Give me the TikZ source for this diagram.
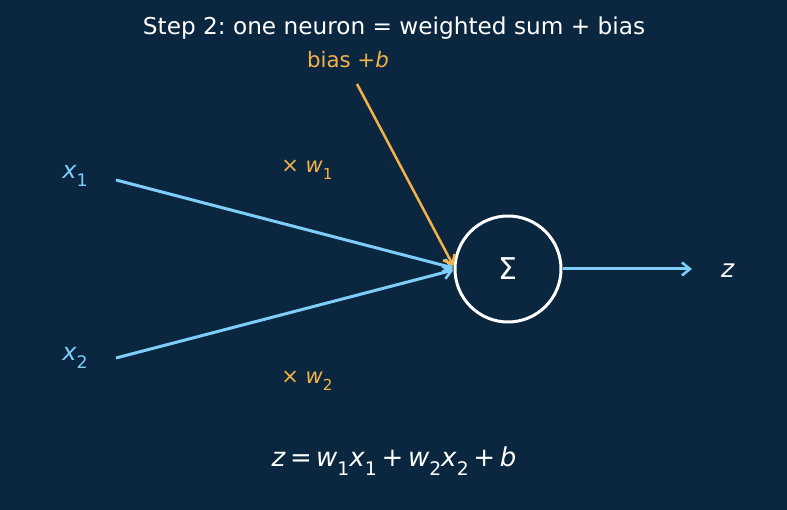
\documentclass[tikz,border=0pt]{standalone}
\usepackage{fontspec}
\setmainfont{DejaVu Sans}
\usetikzlibrary{positioning, arrows.meta, calc}

\definecolor{bgnavy}{HTML}{0B2740}
\definecolor{inblue}{HTML}{7FCDFA}
\definecolor{biasorange}{HTML}{F5B24A}

\newcommand{\mv}[1]{\textit{#1}}
\newcommand{\sbs}[1]{\raisebox{-0.32em}{\fontsize{0.72em}{1em}\selectfont #1}}
\frenchspacing

\begin{document}
\begin{tikzpicture}[x=1pt, y=-1pt, >={Straight Barb[length=8pt, width=13pt, line width=2.6pt]},
  wire/.style={->, line width=3pt, inblue},
  biaswire/.style={->, line width=2.5pt, biasorange},
  inlabel/.style={font=\fontsize{24}{28}\selectfont, text=inblue},
  weightlabel/.style={font=\fontsize{21}{24}\selectfont, text=biasorange},
  sumnode/.style={draw=white, circle, line width=3pt, minimum size=106pt,
    font=\fontsize{30}{34}\selectfont, text=white}]

% --- Background ---
\fill[bgnavy] (0,0) rectangle (787,510);
\useasboundingbox (0,0) rectangle (787,510);

% --- Title ---
\node[text=white, font=\fontsize{23.2}{27}\selectfont] (title) at (394,28)
  {Step 2: one neuron = weighted sum + bias};

% --- Inputs ---
\node[inlabel] (xone) at (75,176) {\mv{x}\sbs{1}};
\node[inlabel] (xtwo) at (75,358) {\mv{x}\sbs{2}};
\coordinate (xonestart) at (116,180);
\coordinate (xtwostart) at (116,358);

% --- Weights ---
\node[weightlabel] (wone) at (307,170) {× \mv{w}\sbs{1}};
\node[weightlabel] (wtwo) at (307,381) {× \mv{w}\sbs{2}};

% --- Bias ---
\node[text=biasorange, font=\fontsize{21.3}{25}\selectfont] (bias) at (348,60) {bias +\mv{b}};
\coordinate (biasstart) at (357,84);

% --- Sum ---
\node[sumnode] (sum) at (508,269) {Σ};

% --- Output ---
\coordinate (zend) at (692,269);
\node[text=white, font=\fontsize{25}{28}\selectfont] (zout) at (728,271) {\mv{z}};

% --- Connections ---
\draw[wire] (xonestart) -- ($(sum.west)+(0,-1)$);
\draw[wire] (xtwostart) -- ($(sum.west)+(0,1)$);
\draw[biaswire] (biasstart) -- ($(sum.west)+(0,-3)$);
\draw[wire] (sum.east) -- (zend);

% --- Formula ---
\node[text=white, font=\fontsize{26}{30}\selectfont] (formula) at (394,461)
  {\mv{z}\,=\,\mv{w}\sbs{1}\mv{x}\sbs{1}\hspace{0.18em}+\hspace{0.18em}\mv{w}\sbs{2}\mv{x}\sbs{2}\hspace{0.18em}+\hspace{0.18em}\mv{b}};

\end{tikzpicture}
\end{document}
